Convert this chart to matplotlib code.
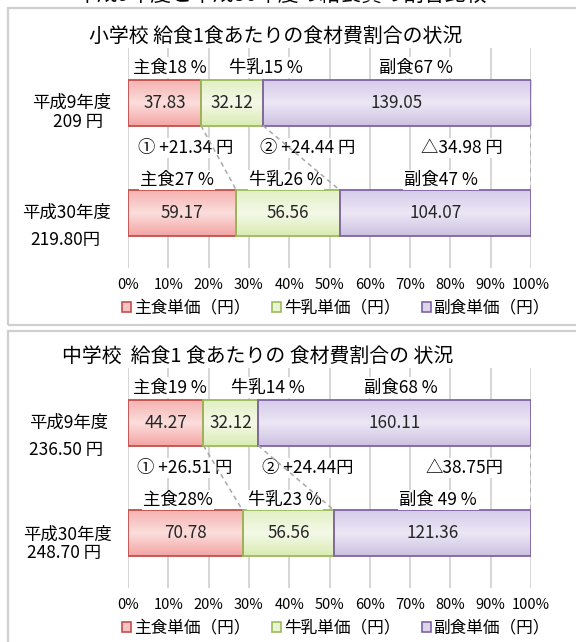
import matplotlib
matplotlib.use('Agg')
import matplotlib.pyplot as plt
import numpy as np
from matplotlib.colors import LinearSegmentedColormap
from matplotlib.patches import Rectangle, Patch

plt.rcParams['font.family'] = ['Noto Sans CJK JP', 'DejaVu Sans']

W, H = 576, 642

# ---------------- data ----------------
series_names = ['主食単価（円）', '牛乳単価（円）', '副食単価（円）']
years = ['平成9年度', '平成30年度']

elem_staple = [37.83, 59.17]
elem_milk = [32.12, 56.56]
elem_side = [139.05, 104.07]
elem_totals = ['209 円', '219.80円']
elem_title = '小学校 給食1食あたりの食材費割合の状況'
elem_pct_top = ['主食18 %', '牛乳15 %', '副食67 %']
elem_diff = ['① +21.34 円', '② +24.44 円', '△34.98 円']
elem_pct_bottom = ['主食27 %', '牛乳26 %', '副食47 %']

junior_staple = [44.27, 70.78]
junior_milk = [32.12, 56.56]
junior_side = [160.11, 121.36]
junior_totals = ['236.50 円', '248.70 円']
junior_title = '中学校  給食1 食あたりの 食材費割合の 状況'
junior_pct_top = ['主食19 %', '牛乳14 %', '副食68 %']
junior_diff = ['① +26.51 円', '② +24.44円', '△38.75円']
junior_pct_bottom = ['主食28%', '牛乳23 %', '副食 49 %']

tick_values = [0, 10, 20, 30, 40, 50, 60, 70, 80, 90, 100]
tick_labels = ['0%', '10%', '20%', '30%', '40%', '50%', '60%', '70%', '80%', '90%', '100%']

page_title = '平成9年度と平成30年度の給食費の割合比較'

# ---------------- style ----------------
edge_colors = ['#c0504d', '#9bbb59', '#8064a2']
face_colors = ['#f7c3c2', '#e9f4d2', '#ddd5ec']
grad_stops = [
    ['#f5b2b0', '#fbdedd', '#f3a4a2'],
    ['#e2f0c4', '#f4f9e8', '#d9ebb2'],
    ['#d5cbe9', '#ece7f5', '#cdc1e2'],
]
BAR_H = 0.41


def fx(x):
    return x / W


def fy(y):
    return 1 - y / H


fig = plt.figure(figsize=(W / 100, H / 100), dpi=100)

# panel frames
fig.patches.append(Rectangle((fx(8), fy(325)), fx(600 - 8), (325 - 8) / H,
                             transform=fig.transFigure, fill=False,
                             ec='#cfcfcf', lw=1.6))
fig.patches.append(Rectangle((fx(8), fy(720)), fx(600 - 8), (720 - 331) / H,
                             transform=fig.transFigure, fill=False,
                             ec='#cfcfcf', lw=1.6))

fig.text(fx(282), fy(-5.5), page_title, ha='center', va='center', fontsize=15)


def draw_panel(top_px, staple, milk, side, totals, title, title_x,
               pct_top, diff, pct_bottom, lab_pos, cat_pos):
    ax = fig.add_axes([fx(128), fy(top_px + 220), 403 / W, 220 / H])
    vals = np.array([staple, milk, side], dtype=float)  # shape (3, 2)
    tot = vals.sum(axis=0)
    pct = vals / tot * 100
    left = np.zeros(2)
    ypos = np.arange(len(years))
    bounds = []
    handles = []
    for i in range(3):
        bars = ax.barh(ypos, pct[i], left=left, height=BAR_H,
                       color=face_colors[i], edgecolor='none', zorder=2)
        cmap = LinearSegmentedColormap.from_list('g%d' % i, grad_stops[i])
        grad = np.linspace(0, 1, 64).reshape(-1, 1)
        for p in bars.patches:
            x0, y0 = p.get_x(), p.get_y()
            w, h = p.get_width(), p.get_height()
            im = ax.imshow(grad, extent=(x0, x0 + w, y0 + h, y0),
                           origin='upper', aspect='auto', cmap=cmap,
                           zorder=2.1, interpolation='bilinear')
            im.set_clip_path(p)
        ax.barh(ypos, pct[i], left=left, height=BAR_H, color='none',
                edgecolor=edge_colors[i], lw=1.3, zorder=2.2)
        for j in range(2):
            ax.text(left[j] + pct[i][j] / 2, ypos[j], f'{vals[i][j]:.2f}',
                    ha='center', va='center', fontsize=12.3,
                    color='#262626', zorder=3)
        left = left + pct[i]
        bounds.append(left.copy())
        handles.append(Patch(facecolor=face_colors[i], edgecolor=edge_colors[i], lw=1.2))

    # series lines
    for b in bounds:
        ax.plot([b[0], b[1]], [ypos[0] + BAR_H / 2, ypos[1] - BAR_H / 2],
                ls=(0, (3, 2.5)), color='#a8a8a8', lw=1.1, zorder=5)

    ax.set_xlim(0, 100)
    ax.set_ylim(1.5, -0.5)
    ax.set_xticks(tick_values)
    ax.set_xticklabels(tick_labels, fontsize=10.5)
    ax.set_yticks([])
    ax.tick_params(axis='x', length=0, pad=7)
    for s in ax.spines.values():
        s.set_visible(False)
    ax.grid(axis='x', color='#d3d3d3', lw=1.3, zorder=0)
    ax.set_axisbelow(True)

    rows = [(-0.32, pct_top), (0.41, diff), (0.70, pct_bottom)]
    for (yv, labels), xs in zip(rows, lab_pos):
        for s, xv in zip(labels, xs):
            ax.text(xv, yv, s, ha='center', va='center', fontsize=12.5,
                    zorder=4,
                    bbox=dict(facecolor='white', edgecolor='none', pad=1.0))

    fig.text(fx(title_x), fy(top_px - 12), title, ha='center', va='center',
             fontsize=14.3)

    for (xc, yc, ha), s in zip(cat_pos, [years[0], totals[0], years[1], totals[1]]):
        fig.text(fx(xc), fy(top_px + yc), s, ha=ha, va='center', fontsize=12.5)

    fig.legend(handles, series_names, loc='center',
               bbox_to_anchor=(fx(336), fy(top_px + 260)),
               bbox_transform=fig.transFigure, ncol=3, frameon=False,
               fontsize=12, handlelength=0.55, handleheight=0.55,
               handletextpad=0.15, columnspacing=1.3, borderpad=0)
    return ax


draw_panel(48, elem_staple, elem_milk, elem_side, elem_totals, elem_title, 276,
           elem_pct_top, elem_diff, elem_pct_bottom,
           lab_pos=[[10.4, 34.2, 71.5], [14.4, 44.7, 82.9], [12.2, 39.2, 77.7]],
           cat_pos=[(72, 55, 'center'), (78, 74, 'center'),
                    (66, 165, 'center'), (65, 192, 'center')])

draw_panel(368, junior_staple, junior_milk, junior_side, junior_totals, junior_title, 258,
           junior_pct_top, junior_diff, junior_pct_bottom,
           lab_pos=[[10.4, 34.7, 67.7], [14.1, 44.7, 83.6], [12.4, 39.0, 77.0]],
           cat_pos=[(29, 55, 'left'), (29, 82, 'left'),
                    (23, 167, 'left'), (27, 185, 'left')])

fig.savefig('out.png', dpi=100)
